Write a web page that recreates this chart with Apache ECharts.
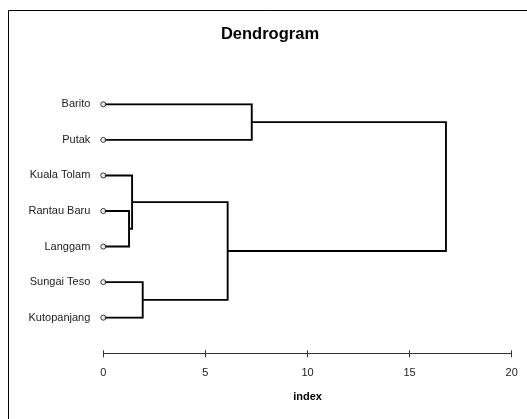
<!DOCTYPE html>
<html><head><meta charset="utf-8">
<script src="https://cdn.jsdelivr.net/npm/echarts@6/dist/echarts.min.js"></script>
<style>html,body{margin:0;padding:0;background:#fff}#c{width:527px;height:419px}</style>
</head><body><div id="c"></div>
<script>
// Leaves (top to bottom)
var leaves = ['Barito', 'Putak', 'Kuala Tolam', 'Rantau Baru', 'Langgam', 'Sungai Teso', 'Kutopanjang'];
// Merges: node ids 0..6 are leaves, merge k creates node 7+k
var mergeLeft   = [0, 3, 2, 5, 9, 7];
var mergeRight  = [1, 4, 8, 6, 10, 11];
var mergeHeight = [7.27, 1.26, 1.41, 1.93, 6.09, 16.78];
var xTicks = [0, 5, 10, 15, 20];

// dendrogram layout from the merge table
var nodeY = leaves.map(function (_, i) { return i; });
var nodeH = leaves.map(function () { return 0; });
var segs = [];
for (var k = 0; k < mergeLeft.length; k++) {
  var a = mergeLeft[k], b = mergeRight[k], h = mergeHeight[k];
  segs.push({ coords: [[nodeH[a], nodeY[a]], [h, nodeY[a]], [h, nodeY[b]], [nodeH[b], nodeY[b]]] });
  nodeY.push((nodeY[a] + nodeY[b]) / 2);
  nodeH.push(h);
}
var leafPts = leaves.map(function (_, i) { return [0, i]; });

var FONT = 'Liberation Sans, Arial, sans-serif';
var chart = echarts.init(document.getElementById('c'));
chart.setOption({
  animation: false,
  backgroundColor: '#fff',
  graphic: [
    { type: 'rect', shape: { x: 8.5, y: 10.5, width: 600, height: 500 },
      style: { fill: 'none', stroke: '#000', lineWidth: 1 }, z: 100 },
    { type: 'text', x: 270, y: 34,
      style: { text: 'Dendrogram', font: 'bold 16.5px ' + FONT, fill: '#000',
               textAlign: 'center', textVerticalAlign: 'middle' } }
  ],
  grid: { left: 103.3, right: 15.3, top: 104.3, bottom: 101.3 },
  xAxis: [{
    type: 'value', min: 0, max: 20, interval: 5, offset: 35.6, position: 'bottom',
    name: 'index', nameLocation: 'middle', nameGap: 38,
    nameTextStyle: { fontFamily: FONT, fontSize: 11, fontWeight: 'bold', color: '#000' },
    axisLine: { show: true, onZero: false, lineStyle: { color: '#333', width: 1 } },
    axisTick: { show: true, length: 4, lineStyle: { color: '#333', width: 1 } },
    axisLabel: { margin: 14, fontFamily: FONT, fontSize: 11, color: '#222' },
    splitLine: { show: false }
  }, {
    type: 'value', min: 0, max: 20, interval: 5, offset: 35.6, position: 'bottom',
    axisLine: { show: false, onZero: false },
    axisTick: { show: true, inside: true, length: 3, lineStyle: { color: '#333', width: 1 } },
    axisLabel: { show: false }, splitLine: { show: false }
  }],
  yAxis: {
    type: 'value', min: 0, max: leaves.length - 1, interval: 1, inverse: true,
    axisLine: { show: false, onZero: false }, axisTick: { show: false }, splitLine: { show: false },
    axisLabel: { margin: 13, fontFamily: FONT, fontSize: 11, color: '#222',
      formatter: function (v) { return leaves[v] || ''; } }
  },
  series: [{
    type: 'lines', coordinateSystem: 'cartesian2d', polyline: true,
    lineStyle: { color: '#000', width: 1.9, opacity: 1 },
    data: segs, silent: true
  }, {
    type: 'scatter', symbol: 'circle', symbolSize: 5,
    itemStyle: { color: '#fff', borderColor: '#000', borderWidth: 1 },
    data: leafPts, z: 5
  }]
});
</script></body></html>
